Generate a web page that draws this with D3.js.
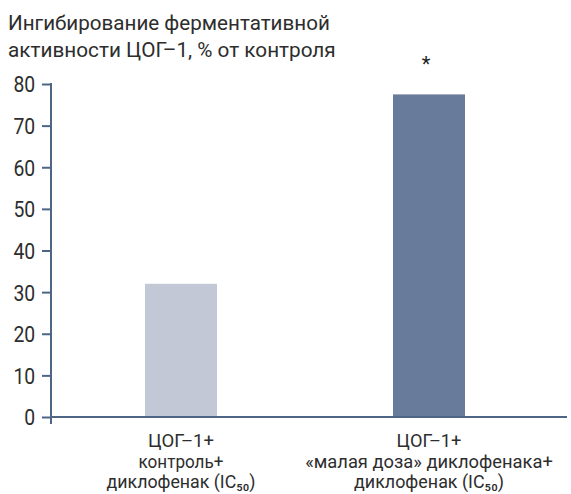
<!DOCTYPE html>
<html>
<head>
<meta charset="utf-8">
<script src="https://cdn.jsdelivr.net/npm/d3@7"></script>
<style>
  body { margin: 0; background: #fff; }
  svg { display: block; font-family: Roboto, "Noto Sans", sans-serif; }
  .tick text { fill: #2d2d2d; }
</style>
</head>
<body>
<div id="chart"></div>
<script>
// data
var categories = ["control", "lowdose"];
var values = [32, 77.5];
var yTicks = [0, 10, 20, 30, 40, 50, 60, 70, 80];
var titleLines = ["Ингибирование ферментативной", "активности ЦОГ\u20131, % от контроля"];
var catLabels = [
  ["ЦОГ\u20131+", "контроль+", "диклофенак (IC\u2085\u2080)"],
  ["ЦОГ\u20131+", "\u00abмалая доза\u00bb диклофенака+", "диклофенак (IC\u2085\u2080)"]
];
var significance = ["", "*"];

var W = 571, H = 494;
var axisColor = "#4f6586";
var barColors = ["#c2c8d6", "#687b9a"];

var svg = d3.select("#chart").append("svg")
  .attr("width", W).attr("height", H);

var x = d3.scalePoint().domain(categories).range([57, 553]).padding(0.5);
var y = d3.scaleLinear().domain([0, 80]).range([417, 84]);
var barW = 72;

// squeeze a text node horizontally to a target width
function fitWidth(sel, cx, cy, target) {
  var w = sel.node().getComputedTextLength();
  var s = target / w;
  sel.attr("transform", "translate(" + cx + "," + cy + ") scale(" + s + ",1)");
}

// title
var titleLen = [322, 328];
svg.append("g").selectAll("text")
  .data(titleLines)
  .enter().append("text")
  .attr("font-size", 21)
  .attr("fill", "#2d2d2d")
  .text(function(d) { return d; })
  .each(function(d, i) { fitWidth(d3.select(this), 8, 30 + i * 27, titleLen[i]); });

// bars
svg.selectAll(".bar")
  .data(values)
  .enter().append("rect")
  .attr("class", "bar")
  .attr("x", function(d, i) { return x(categories[i]) - barW / 2; })
  .attr("y", function(d) { return y(d); })
  .attr("width", barW)
  .attr("height", function(d) { return y(0) - y(d); })
  .attr("fill", function(d, i) { return barColors[i]; });

// asterisk
svg.selectAll(".sig")
  .data(significance)
  .enter().append("text")
  .attr("class", "sig")
  .attr("x", function(d, i) { return x(categories[i]) - 3; })
  .attr("y", 71)
  .attr("text-anchor", "middle")
  .attr("font-size", 20)
  .attr("fill", "#222")
  .text(function(d) { return d; });

// y axis
var yAxis = svg.append("g")
  .attr("transform", "translate(51,0)")
  .call(d3.axisLeft(y).tickValues(yTicks).tickSize(9).tickPadding(5).tickSizeOuter(0));
yAxis.select(".domain").remove();
yAxis.selectAll(".tick line").attr("stroke", axisColor).attr("stroke-width", 2);
yAxis.selectAll(".tick text")
  .attr("font-size", 22)
  .attr("font-family", "Roboto, sans-serif")
  .attr("transform", "scale(0.88,1)")
  .attr("x", -14 / 0.88 - 2)
  .attr("dy", "0.36em");

// axis lines
svg.append("line")
  .attr("x1", 51).attr("x2", 51)
  .attr("y1", y(80) - 1).attr("y2", y(0) + 7)
  .attr("stroke", axisColor).attr("stroke-width", 2);
svg.append("line")
  .attr("x1", 50).attr("x2", 567)
  .attr("y1", y(0)).attr("y2", y(0))
  .attr("stroke", axisColor).attr("stroke-width", 2);

// category labels
var lineLen = [[66, 85, 149], [65, 248, 150]];
var lineY = [447, 468, 488];
categories.forEach(function(c, ci) {
  var g = svg.append("g");
  catLabels[ci].forEach(function(line, li) {
    var t = g.append("text")
      .attr("text-anchor", "middle")
      .attr("font-size", 18)
      .attr("fill", "#2d2d2d")
      .text(line);
    fitWidth(t, x(c), lineY[li], lineLen[ci][li]);
  });
});
</script>
</body>
</html>
